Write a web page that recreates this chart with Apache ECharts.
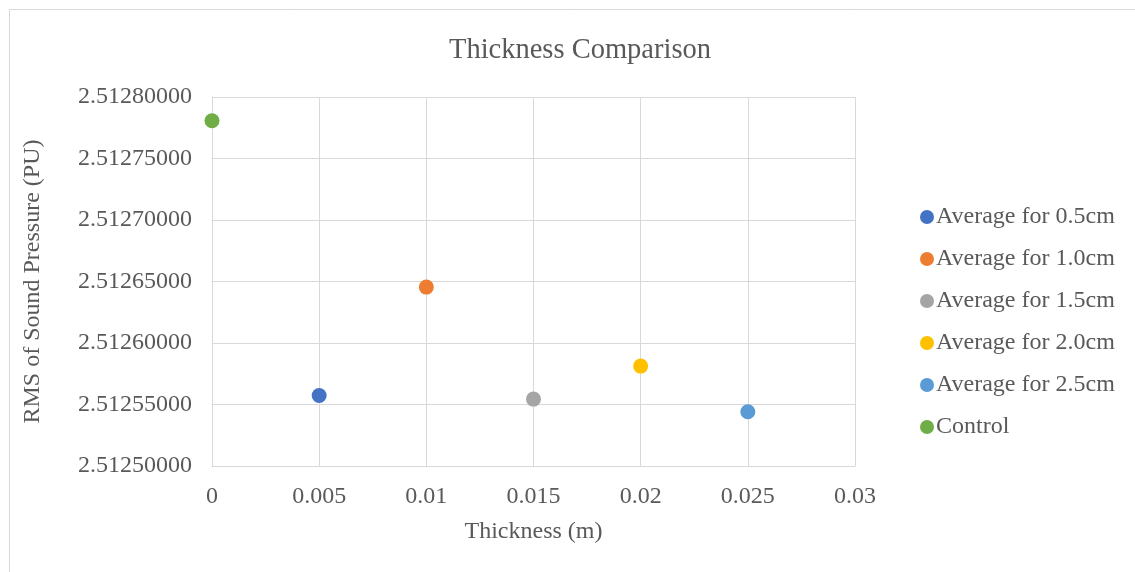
<!DOCTYPE html>
<html>
<head>
<meta charset="utf-8">
<script src="https://cdn.jsdelivr.net/npm/echarts@6/dist/echarts.min.js"></script>
<style>html,body{margin:0;padding:0;background:#fff}#c{width:1135px;height:572px}</style>
</head>
<body>
<div id="c"></div>
<script>
const seriesNames = ['Average for 0.5cm','Average for 1.0cm','Average for 1.5cm','Average for 2.0cm','Average for 2.5cm','Control'];
const thickness = [0.005, 0.010, 0.015, 0.020, 0.025, 0];
const rmsValues = [2.51255732, 2.51264545, 2.51255439, 2.51258122, 2.51254407, 2.51278065];
const colors = ['#4472C4','#ED7D31','#A5A5A5','#FFC000','#5B9BD5','#70AD47'];
const yMin = 2.5125, yMax = 2.5128, yStep = 0.00005;
const xMin = 0, xMax = 0.03, xStep = 0.005;

const font = 'Liberation Serif';
const txt = '#595959';
const chart = echarts.init(document.getElementById('c'));
chart.setOption({
  animation: false,
  backgroundColor: '#fff',
  graphic: [{type:'rect', shape:{x:9.5,y:9.5,width:1140,height:580}, style:{fill:null, stroke:'#d9d9d9', lineWidth:1}}],
  title: {text:'Thickness Comparison', left: 575, top: 31, textAlign:'center',
    textStyle:{fontFamily:font, fontSize:28.5, fontWeight:'normal', color:txt}},
  grid: {left:212, right:280, top:97, bottom:106},
  legend: {orient:'vertical', left:915, top:200, itemWidth:14, itemHeight:14, itemGap:18, icon:'circle',
    textStyle:{fontFamily:font, fontSize:24, color:txt, padding:[0,0,0,-3]},
    data: seriesNames},
  xAxis: {type:'value', min:xMin, max:xMax, interval:xStep,
    name:'Thickness (m)', nameLocation:'middle', nameGap:54,
    nameTextStyle:{fontFamily:font, fontSize:24, color:txt},
    axisLine:{show:true, lineStyle:{color:'#d9d9d9'}}, axisTick:{show:false},
    axisLabel:{fontFamily:font, fontSize:24, color:txt, margin:19},
    splitLine:{show:true, lineStyle:{color:'#d9d9d9'}}},
  yAxis: {type:'value', min:yMin, max:yMax, interval:yStep,
    name:'RMS of Sound Pressure (PU)', nameLocation:'middle', nameGap:167, nameRotate:90,
    nameTextStyle:{fontFamily:font, fontSize:24, color:txt},
    axisLine:{show:true, lineStyle:{color:'#d9d9d9'}}, axisTick:{show:false},
    axisLabel:{fontFamily:font, fontSize:24, color:txt, margin:20, formatter:v=>v.toFixed(8)},
    splitLine:{show:true, lineStyle:{color:'#d9d9d9'}}},
  series: seriesNames.map((n,i)=>({
    name:n, type:'scatter', symbol:'circle', symbolSize:15,
    itemStyle:{color:colors[i], opacity:1},
    data:[[thickness[i], rmsValues[i]]]
  }))
});
</script>
</body>
</html>
